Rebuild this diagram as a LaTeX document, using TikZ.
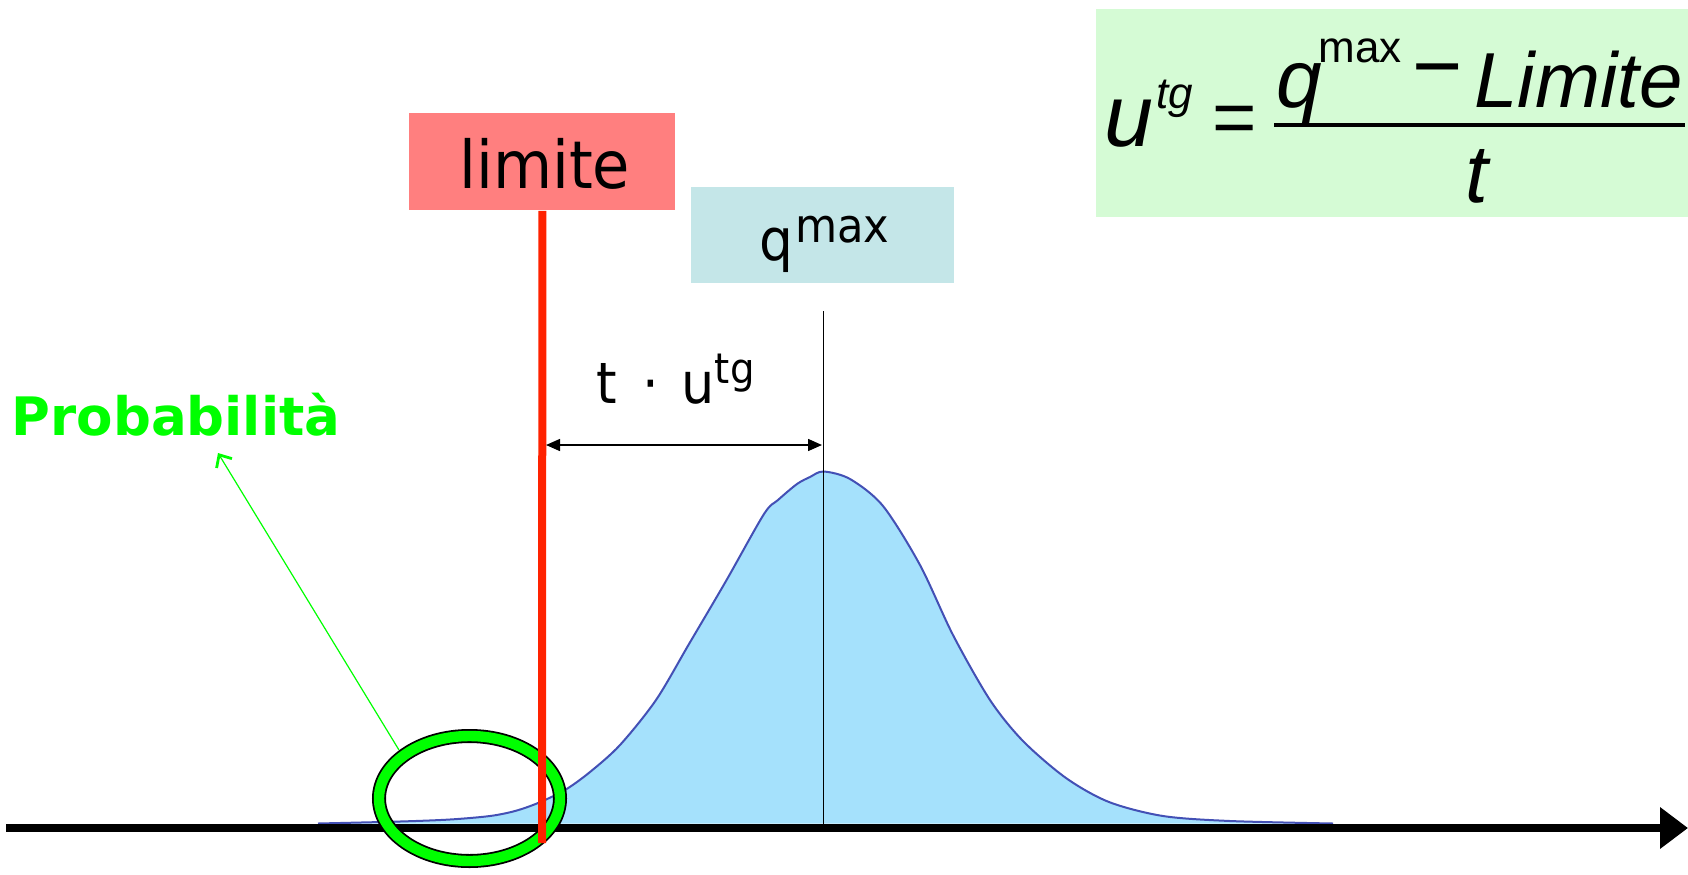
\documentclass[tikz,border=0pt]{standalone}
\usepackage{fontspec}
\setmainfont{DejaVu Sans}
\newfontfamily\tahf[FakeStretch=0.92]{DejaVu Sans}
\newfontfamily\verdf{DejaVu Sans}
\newfontfamily\arialf{Liberation Sans}
\usetikzlibrary{arrows.meta,shapes.geometric}
\definecolor{limred}{HTML}{FF7F7F}
\definecolor{qblue}{HTML}{C4E6E8}
\definecolor{fgreen}{HTML}{D5FBD5}
\definecolor{curvefill}{HTML}{A5E1FC}
\definecolor{curveline}{HTML}{4350B5}
\definecolor{redline}{HTML}{FF2200}
\definecolor{brightgreen}{HTML}{00FF00}
\tikzset{
  boxnode/.style={inner sep=0, anchor=north west},
  txt/.style={inner sep=0, anchor=base west},
}
\newcommand{\curvepts}{(318,823.5) (400,821.5) (450,819.5) (490,816) (515,811) (538,803) (565,790) (590,772) (620,745) (656,700) (689,644) (726,581) (764,514) (778,500) (797,484) (810,477) (823.5,471.5) (850,479) (883,506) (920,565) (953,635) (990,700) (1023,741) (1066,778) (1109,802) (1163,816) (1230,821) (1333,823.5)}
\begin{document}
\begin{tikzpicture}[x=0.5pt,y=-0.5pt]
\useasboundingbox (0,0) rectangle (1688,874);
% boxes
\node (fbox) [boxnode, fill=fgreen, minimum width=296pt, minimum height=104pt] at (1096,9) {};
\node (limite) [boxnode, fill=limred, minimum width=133pt, minimum height=48.5pt] at (409,113) {};
\node (qmax) [boxnode, fill=qblue, minimum width=131.5pt, minimum height=48pt] at (691,187) {};
% bell curve
\fill[curvefill] plot[smooth] coordinates {\curvepts} -- cycle;
\draw[curveline, line width=1pt] plot[smooth] coordinates {\curvepts};
% thin vertical line at q max
\coordinate (qtop) at (823.5,311);
\coordinate (qbot) at (823.5,826);
\draw[black, line width=0.75pt] (qtop) -- (qbot);
% axis
\coordinate (axs) at (6,828);
\coordinate (axe) at (1688,828);
\draw[line width=4pt, -{Triangle[length=14pt,width=20pt]}] (axs) -- (axe);
% green ring
\node (ring) [ellipse, draw=black, double=brightgreen, double distance=5.2pt, line width=0.9pt, minimum width=90.5pt, minimum height=62.5pt, inner sep=0] at (469.5,798.5) {};
% red limit line
\coordinate (redbot) at (542,843);
\draw[redline, line width=4pt] (limite.south) -- (redbot);
% double arrow
\coordinate (da1) at (546,445);
\coordinate (da2) at (822,445);
\draw[line width=0.75pt, {Triangle[length=7pt,width=6pt]}-{Triangle[length=7pt,width=6pt]}] (da1) -- (da2);
% green arrow
\coordinate (gstart) at (399,750);
\coordinate (gtip) at (218,453);
\draw[brightgreen, line width=0.6pt, -{Straight Barb[length=5pt,width=9pt,line width=1.4pt]}] (gstart) -- (gtip);
% texts
\node (limtxt) [txt] at (459,188) {\tahf\fontsize{33}{33}\selectfont limite};
\node (qtxt) [txt] at (759,260) {\tahf\fontsize{29}{29}\selectfont q\hspace{1pt}\raisebox{9pt}{\fontsize{23.5}{23.5}\selectfont max}};
\node (tutxt) [txt] at (596,403) {\tahf\fontsize{28.5}{28.5}\selectfont t\hspace{13pt}·\hspace{11pt}u\raisebox{10pt}{\fontsize{21}{21}\selectfont tg}};
\node (prob) [inner sep=0, anchor=base, text=brightgreen] at (176,435) {\verdf\bfseries\fontsize{26.5}{26.5}\selectfont Probabilità};
% formula
\node (fu) [txt] at (1104,146) {\arialf\itshape\fontsize{44}{44}\selectfont u};
\node (ftg) [txt] at (1156,108) {\arialf\itshape\fontsize{22}{22}\selectfont tg};
\node (feq) [inner sep=0] at (1235,125) {\arialf\fontsize{38}{38}\selectfont =};
\node (fq) [txt] at (1276,107) {\arialf\itshape\fontsize{41}{41}\selectfont q};
\node (fmax) [txt] at (1318,62) {\arialf\fontsize{22}{22}\selectfont max};
\node (fminus) [inner sep=0] at (1438,80) {\arialf\fontsize{43}{43}\selectfont −};
\node (flim) [txt] at (1474,107) {\arialf\itshape\fontsize{39}{39}\selectfont Limite};
\coordinate (barl) at (1274,125);
\coordinate (barr) at (1685,125);
\draw[line width=2pt] (barl) -- (barr);
\node (ft) [inner sep=0, anchor=base] at (1477,202) {\arialf\itshape\fontsize{41}{41}\selectfont t};
\end{tikzpicture}
\end{document}
